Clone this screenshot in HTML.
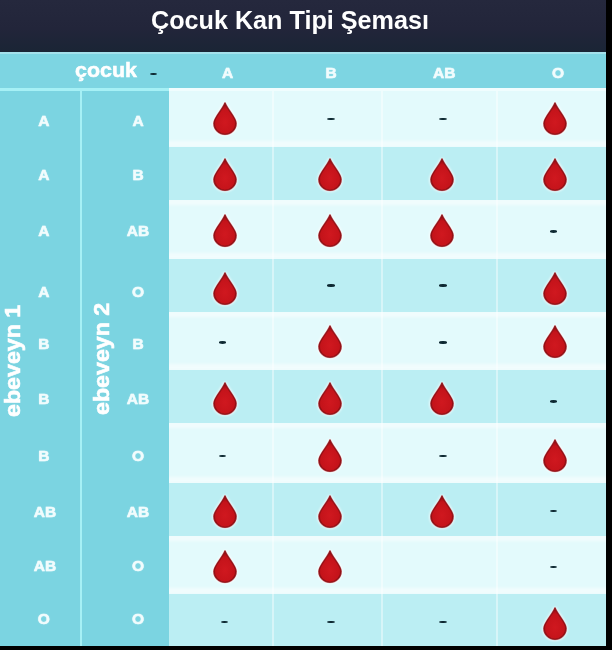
<!DOCTYPE html>
<html><head><meta charset="utf-8"><title>Çocuk Kan Tipi Şeması</title>
<style>
html,body{margin:0;padding:0;}
body{width:612px;height:650px;background:#000;position:relative;overflow:hidden;font-family:"Liberation Sans",sans-serif;}
.abs{position:absolute;}
#title{left:0;top:0;width:606px;height:51.5px;background:linear-gradient(#25283d,#22253a 55%,#1a2535);}
#title span{position:absolute;left:151px;top:4.5px;font-weight:bold;font-size:25px;line-height:30px;color:#fff;white-space:nowrap;transform-origin:0 0;transform:scaleX(1.007);}
#hdr{left:0;top:51.5px;width:606px;height:36.5px;background:#7dd5e2;}
#side{left:0;top:88px;width:169px;height:558px;background:#7bd4e1;}
.lab{position:absolute;color:#f2fcfd;-webkit-text-stroke:.5px #f2fcfd;text-shadow:0 0 1.5px rgba(235,251,253,.7);font-weight:bold;font-size:15.5px;line-height:18px;width:40px;text-align:center;filter:blur(0.6px);}
.cell{position:absolute;}
.dash{position:absolute;width:7.4px;height:2.4px;background:#0d2831;border-radius:50%;filter:blur(0.25px);}
.drop{position:absolute;width:30px;height:38px;overflow:visible;}
.vt{position:absolute;color:#fff;-webkit-text-stroke:.6px #fff;filter:blur(.3px);font-weight:bold;font-size:22px;line-height:24px;white-space:nowrap;transform-origin:0 0;transform:rotate(-90deg) scaleX(1.055);}
.hl{position:absolute;background:rgba(255,255,255,.5);filter:blur(1.8px);}
.vl{position:absolute;width:2px;background:rgba(255,255,255,.42);filter:blur(0.6px);}
</style></head><body>
<svg width="0" height="0" style="position:absolute"><defs>
<radialGradient id="rg" cx="50%" cy="62%" r="55%"><stop offset="0" stop-color="#d0181f"/><stop offset="0.75" stop-color="#c4131a"/><stop offset="1" stop-color="#9c0e14"/></radialGradient>
<path id="dp" d="M15 3.6 C16.3 9 26.1 18.6 26.1 24.2 A11.1 11.1 0 0 1 3.9 24.2 C3.9 18.6 13.7 9 15 3.6 Z"/>
</defs></svg>
<div id="title" class="abs"><span>Çocuk Kan Tipi Şeması</span></div>
<div id="hdr" class="abs"></div>
<div id="side" class="abs"></div>

<div class="abs" style="left:169px;top:88px;width:437px;height:558px;background:#e3fafc;overflow:hidden">
<div class="hl" style="left:-5px;top:52.5px;width:447px;height:6.5px;"></div>
<div class="hl" style="left:-5px;top:111.0px;width:447px;height:6px;"></div>
<div class="hl" style="left:-5px;top:165px;width:447px;height:6.5px;"></div>
<div class="hl" style="left:-5px;top:223.0px;width:447px;height:6px;"></div>
<div class="hl" style="left:-5px;top:276px;width:447px;height:6.5px;"></div>
<div class="hl" style="left:-5px;top:334.0px;width:447px;height:6px;"></div>
<div class="hl" style="left:-5px;top:389px;width:447px;height:6.5px;"></div>
<div class="hl" style="left:-5px;top:447.0px;width:447px;height:6px;"></div>
<div class="hl" style="left:-5px;top:499.5px;width:447px;height:6.5px;"></div>
<div class="cell" style="left:0;top:58.5px;width:437px;height:53.0px;background:#bbeef3"></div>
<div class="cell" style="left:0;top:171px;width:437px;height:52.5px;background:#bbeef3"></div>
<div class="cell" style="left:0;top:282px;width:437px;height:52.5px;background:#bbeef3"></div>
<div class="cell" style="left:0;top:395px;width:437px;height:52.5px;background:#bbeef3"></div>
<div class="cell" style="left:0;top:505.5px;width:437px;height:52.5px;background:#bbeef3"></div>
</div>
<div class="vl" style="left:272.3px;top:90px;height:556px;"></div>
<div class="vl" style="left:381.4px;top:90px;height:556px;"></div>
<div class="vl" style="left:495.5px;top:90px;height:556px;"></div>
<div class="abs" style="left:0;top:88px;width:606px;height:3px;background:linear-gradient(90deg,#a6f0f5 0,#a6f0f5 169px,#f0fdfe 169px);filter:blur(.5px)"></div>
<div class="abs" style="left:80.1px;top:89px;width:2.3px;height:557px;background:#a6f0f5;filter:blur(.4px)"></div>
<div class="abs" style="left:75.3px;top:56.6px;color:#fff;font-weight:bold;font-size:20px;line-height:26px;transform-origin:0 0;transform:scaleX(1.07);-webkit-text-stroke:.5px #fff;filter:blur(.3px)">çocuk</div>
<div class="dash" style="left:149.8px;top:72.6px;"></div>
<div class="lab" style="left:207.5px;top:63.9px;">A</div>
<div class="lab" style="left:311.2px;top:63.9px;">B</div>
<div class="lab" style="left:424.2px;top:63.9px;">AB</div>
<div class="lab" style="left:538.1px;top:63.9px;">O</div>
<div class="abs" style="left:0;top:51.5px;width:606px;height:2.2px;background:rgba(255,255,255,.3);filter:blur(.5px)"></div>
<div class="vt" style="left:1.4px;top:417px;">ebeveyn 1</div>
<div class="vt" style="left:90.4px;top:415px;">ebeveyn 2</div>
<div class="lab" style="left:23.9px;top:112.1px;">A</div>
<div class="lab" style="left:118px;top:112.1px;">A</div>
<svg class="drop" style="left:210.0px;top:99.4px" viewBox="0 0 30 38"><use href="#dp" fill="none" stroke="#fff" stroke-opacity=".7" stroke-width="3.6" style="filter:blur(.8px)"/><use href="#dp" fill="none" stroke="#f08a90" stroke-opacity=".7" stroke-width="1.8"/><use href="#dp" fill="url(#rg)" stroke="#7e0c11" stroke-opacity=".75" stroke-width="1.3"/></svg>
<div class="dash" style="left:327.3px;top:118.1px;"></div>
<div class="dash" style="left:439.3px;top:118.1px;"></div>
<svg class="drop" style="left:540.1px;top:99.4px" viewBox="0 0 30 38"><use href="#dp" fill="none" stroke="#fff" stroke-opacity=".7" stroke-width="3.6" style="filter:blur(.8px)"/><use href="#dp" fill="none" stroke="#f08a90" stroke-opacity=".7" stroke-width="1.8"/><use href="#dp" fill="url(#rg)" stroke="#7e0c11" stroke-opacity=".75" stroke-width="1.3"/></svg>
<div class="lab" style="left:23.9px;top:165.6px;">A</div>
<div class="lab" style="left:118px;top:165.6px;">B</div>
<svg class="drop" style="left:210.0px;top:155.4px" viewBox="0 0 30 38"><use href="#dp" fill="none" stroke="#fff" stroke-opacity=".7" stroke-width="3.6" style="filter:blur(.8px)"/><use href="#dp" fill="none" stroke="#f08a90" stroke-opacity=".7" stroke-width="1.8"/><use href="#dp" fill="url(#rg)" stroke="#7e0c11" stroke-opacity=".75" stroke-width="1.3"/></svg>
<svg class="drop" style="left:314.7px;top:155.4px" viewBox="0 0 30 38"><use href="#dp" fill="none" stroke="#fff" stroke-opacity=".7" stroke-width="3.6" style="filter:blur(.8px)"/><use href="#dp" fill="none" stroke="#f08a90" stroke-opacity=".7" stroke-width="1.8"/><use href="#dp" fill="url(#rg)" stroke="#7e0c11" stroke-opacity=".75" stroke-width="1.3"/></svg>
<svg class="drop" style="left:427.2px;top:155.4px" viewBox="0 0 30 38"><use href="#dp" fill="none" stroke="#fff" stroke-opacity=".7" stroke-width="3.6" style="filter:blur(.8px)"/><use href="#dp" fill="none" stroke="#f08a90" stroke-opacity=".7" stroke-width="1.8"/><use href="#dp" fill="url(#rg)" stroke="#7e0c11" stroke-opacity=".75" stroke-width="1.3"/></svg>
<svg class="drop" style="left:540.1px;top:155.4px" viewBox="0 0 30 38"><use href="#dp" fill="none" stroke="#fff" stroke-opacity=".7" stroke-width="3.6" style="filter:blur(.8px)"/><use href="#dp" fill="none" stroke="#f08a90" stroke-opacity=".7" stroke-width="1.8"/><use href="#dp" fill="url(#rg)" stroke="#7e0c11" stroke-opacity=".75" stroke-width="1.3"/></svg>
<div class="lab" style="left:23.9px;top:222.3px;">A</div>
<div class="lab" style="left:118px;top:222.3px;">AB</div>
<svg class="drop" style="left:210.0px;top:211.1px" viewBox="0 0 30 38"><use href="#dp" fill="none" stroke="#fff" stroke-opacity=".7" stroke-width="3.6" style="filter:blur(.8px)"/><use href="#dp" fill="none" stroke="#f08a90" stroke-opacity=".7" stroke-width="1.8"/><use href="#dp" fill="url(#rg)" stroke="#7e0c11" stroke-opacity=".75" stroke-width="1.3"/></svg>
<svg class="drop" style="left:314.7px;top:211.1px" viewBox="0 0 30 38"><use href="#dp" fill="none" stroke="#fff" stroke-opacity=".7" stroke-width="3.6" style="filter:blur(.8px)"/><use href="#dp" fill="none" stroke="#f08a90" stroke-opacity=".7" stroke-width="1.8"/><use href="#dp" fill="url(#rg)" stroke="#7e0c11" stroke-opacity=".75" stroke-width="1.3"/></svg>
<svg class="drop" style="left:427.2px;top:211.1px" viewBox="0 0 30 38"><use href="#dp" fill="none" stroke="#fff" stroke-opacity=".7" stroke-width="3.6" style="filter:blur(.8px)"/><use href="#dp" fill="none" stroke="#f08a90" stroke-opacity=".7" stroke-width="1.8"/><use href="#dp" fill="url(#rg)" stroke="#7e0c11" stroke-opacity=".75" stroke-width="1.3"/></svg>
<div class="dash" style="left:550.1px;top:230.3px;"></div>
<div class="lab" style="left:23.9px;top:282.8px;">A</div>
<div class="lab" style="left:118px;top:282.8px;">O</div>
<svg class="drop" style="left:210.0px;top:268.9px" viewBox="0 0 30 38"><use href="#dp" fill="none" stroke="#fff" stroke-opacity=".7" stroke-width="3.6" style="filter:blur(.8px)"/><use href="#dp" fill="none" stroke="#f08a90" stroke-opacity=".7" stroke-width="1.8"/><use href="#dp" fill="url(#rg)" stroke="#7e0c11" stroke-opacity=".75" stroke-width="1.3"/></svg>
<div class="dash" style="left:327.3px;top:284.2px;"></div>
<div class="dash" style="left:439.3px;top:284.2px;"></div>
<svg class="drop" style="left:540.1px;top:268.9px" viewBox="0 0 30 38"><use href="#dp" fill="none" stroke="#fff" stroke-opacity=".7" stroke-width="3.6" style="filter:blur(.8px)"/><use href="#dp" fill="none" stroke="#f08a90" stroke-opacity=".7" stroke-width="1.8"/><use href="#dp" fill="url(#rg)" stroke="#7e0c11" stroke-opacity=".75" stroke-width="1.3"/></svg>
<div class="lab" style="left:23.9px;top:334.8px;">B</div>
<div class="lab" style="left:118px;top:334.8px;">B</div>
<div class="dash" style="left:218.8px;top:341.3px;"></div>
<svg class="drop" style="left:314.7px;top:322.4px" viewBox="0 0 30 38"><use href="#dp" fill="none" stroke="#fff" stroke-opacity=".7" stroke-width="3.6" style="filter:blur(.8px)"/><use href="#dp" fill="none" stroke="#f08a90" stroke-opacity=".7" stroke-width="1.8"/><use href="#dp" fill="url(#rg)" stroke="#7e0c11" stroke-opacity=".75" stroke-width="1.3"/></svg>
<div class="dash" style="left:439.3px;top:341.3px;"></div>
<svg class="drop" style="left:540.1px;top:322.4px" viewBox="0 0 30 38"><use href="#dp" fill="none" stroke="#fff" stroke-opacity=".7" stroke-width="3.6" style="filter:blur(.8px)"/><use href="#dp" fill="none" stroke="#f08a90" stroke-opacity=".7" stroke-width="1.8"/><use href="#dp" fill="url(#rg)" stroke="#7e0c11" stroke-opacity=".75" stroke-width="1.3"/></svg>
<div class="lab" style="left:23.9px;top:390.3px;">B</div>
<div class="lab" style="left:118px;top:390.3px;">AB</div>
<svg class="drop" style="left:210.0px;top:378.6px" viewBox="0 0 30 38"><use href="#dp" fill="none" stroke="#fff" stroke-opacity=".7" stroke-width="3.6" style="filter:blur(.8px)"/><use href="#dp" fill="none" stroke="#f08a90" stroke-opacity=".7" stroke-width="1.8"/><use href="#dp" fill="url(#rg)" stroke="#7e0c11" stroke-opacity=".75" stroke-width="1.3"/></svg>
<svg class="drop" style="left:314.7px;top:378.6px" viewBox="0 0 30 38"><use href="#dp" fill="none" stroke="#fff" stroke-opacity=".7" stroke-width="3.6" style="filter:blur(.8px)"/><use href="#dp" fill="none" stroke="#f08a90" stroke-opacity=".7" stroke-width="1.8"/><use href="#dp" fill="url(#rg)" stroke="#7e0c11" stroke-opacity=".75" stroke-width="1.3"/></svg>
<svg class="drop" style="left:427.2px;top:378.6px" viewBox="0 0 30 38"><use href="#dp" fill="none" stroke="#fff" stroke-opacity=".7" stroke-width="3.6" style="filter:blur(.8px)"/><use href="#dp" fill="none" stroke="#f08a90" stroke-opacity=".7" stroke-width="1.8"/><use href="#dp" fill="url(#rg)" stroke="#7e0c11" stroke-opacity=".75" stroke-width="1.3"/></svg>
<div class="dash" style="left:550.1px;top:400.3px;"></div>
<div class="lab" style="left:23.9px;top:446.6px;">B</div>
<div class="lab" style="left:118px;top:446.6px;">O</div>
<div class="dash" style="left:218.8px;top:454.6px;"></div>
<svg class="drop" style="left:314.7px;top:436.4px" viewBox="0 0 30 38"><use href="#dp" fill="none" stroke="#fff" stroke-opacity=".7" stroke-width="3.6" style="filter:blur(.8px)"/><use href="#dp" fill="none" stroke="#f08a90" stroke-opacity=".7" stroke-width="1.8"/><use href="#dp" fill="url(#rg)" stroke="#7e0c11" stroke-opacity=".75" stroke-width="1.3"/></svg>
<div class="dash" style="left:439.3px;top:454.6px;"></div>
<svg class="drop" style="left:540.1px;top:436.4px" viewBox="0 0 30 38"><use href="#dp" fill="none" stroke="#fff" stroke-opacity=".7" stroke-width="3.6" style="filter:blur(.8px)"/><use href="#dp" fill="none" stroke="#f08a90" stroke-opacity=".7" stroke-width="1.8"/><use href="#dp" fill="url(#rg)" stroke="#7e0c11" stroke-opacity=".75" stroke-width="1.3"/></svg>
<div class="lab" style="left:25px;top:503.3px;">AB</div>
<div class="lab" style="left:118px;top:503.3px;">AB</div>
<svg class="drop" style="left:210.0px;top:491.9px" viewBox="0 0 30 38"><use href="#dp" fill="none" stroke="#fff" stroke-opacity=".7" stroke-width="3.6" style="filter:blur(.8px)"/><use href="#dp" fill="none" stroke="#f08a90" stroke-opacity=".7" stroke-width="1.8"/><use href="#dp" fill="url(#rg)" stroke="#7e0c11" stroke-opacity=".75" stroke-width="1.3"/></svg>
<svg class="drop" style="left:314.7px;top:491.9px" viewBox="0 0 30 38"><use href="#dp" fill="none" stroke="#fff" stroke-opacity=".7" stroke-width="3.6" style="filter:blur(.8px)"/><use href="#dp" fill="none" stroke="#f08a90" stroke-opacity=".7" stroke-width="1.8"/><use href="#dp" fill="url(#rg)" stroke="#7e0c11" stroke-opacity=".75" stroke-width="1.3"/></svg>
<svg class="drop" style="left:427.2px;top:491.9px" viewBox="0 0 30 38"><use href="#dp" fill="none" stroke="#fff" stroke-opacity=".7" stroke-width="3.6" style="filter:blur(.8px)"/><use href="#dp" fill="none" stroke="#f08a90" stroke-opacity=".7" stroke-width="1.8"/><use href="#dp" fill="url(#rg)" stroke="#7e0c11" stroke-opacity=".75" stroke-width="1.3"/></svg>
<div class="dash" style="left:550.1px;top:509.6px;"></div>
<div class="lab" style="left:25px;top:556.6px;">AB</div>
<div class="lab" style="left:118px;top:556.6px;">O</div>
<svg class="drop" style="left:210.0px;top:546.7px" viewBox="0 0 30 38"><use href="#dp" fill="none" stroke="#fff" stroke-opacity=".7" stroke-width="3.6" style="filter:blur(.8px)"/><use href="#dp" fill="none" stroke="#f08a90" stroke-opacity=".7" stroke-width="1.8"/><use href="#dp" fill="url(#rg)" stroke="#7e0c11" stroke-opacity=".75" stroke-width="1.3"/></svg>
<svg class="drop" style="left:314.7px;top:546.7px" viewBox="0 0 30 38"><use href="#dp" fill="none" stroke="#fff" stroke-opacity=".7" stroke-width="3.6" style="filter:blur(.8px)"/><use href="#dp" fill="none" stroke="#f08a90" stroke-opacity=".7" stroke-width="1.8"/><use href="#dp" fill="url(#rg)" stroke="#7e0c11" stroke-opacity=".75" stroke-width="1.3"/></svg>
<div class="dash" style="left:550.1px;top:565.5px;"></div>
<div class="lab" style="left:23.9px;top:610.3px;">O</div>
<div class="lab" style="left:118px;top:610.3px;">O</div>
<div class="dash" style="left:221.1px;top:620.5px;"></div>
<div class="dash" style="left:327.3px;top:620.5px;"></div>
<div class="dash" style="left:439.3px;top:620.5px;"></div>
<svg class="drop" style="left:540.1px;top:603.5px" viewBox="0 0 30 38"><use href="#dp" fill="none" stroke="#fff" stroke-opacity=".7" stroke-width="3.6" style="filter:blur(.8px)"/><use href="#dp" fill="none" stroke="#f08a90" stroke-opacity=".7" stroke-width="1.8"/><use href="#dp" fill="url(#rg)" stroke="#7e0c11" stroke-opacity=".75" stroke-width="1.3"/></svg>
</body></html>
